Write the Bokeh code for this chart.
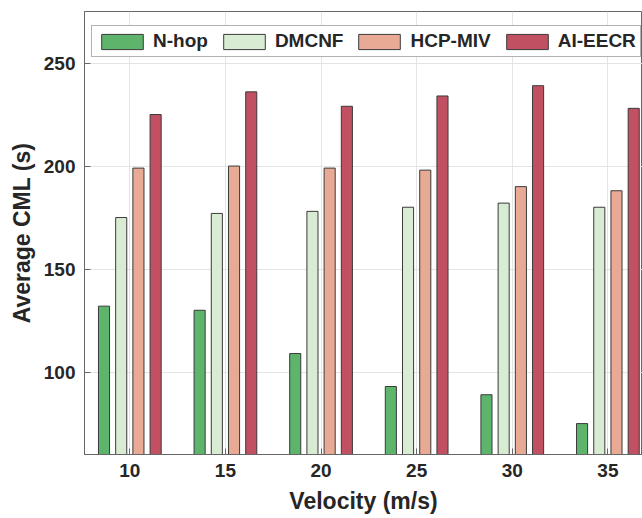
from bokeh.plotting import figure
from bokeh.models import ColumnDataSource, Legend, LegendItem
from bokeh.transform import dodge
from bokeh.embed import file_html
from bokeh.resources import INLINE

# ---- data ----
velocity = [10, 15, 20, 25, 30, 35]
n_hop = [132, 130, 109, 93, 89, 75]
dmcnf = [175, 177, 178, 180, 182, 180]
hcp_miv = [199, 200, 199, 198, 190, 188]
ai_eecr = [225, 236, 229, 234, 239, 228]
series_names = ["N-hop", "DMCNF", "HCP-MIV", "AI-EECR"]
series_keys = ["n_hop", "dmcnf", "hcp_miv", "ai_eecr"]
colors = ["#5eb46a", "#d8ecd4", "#e8aa94", "#c15162"]
y_ticks = [100, 150, 200, 250]

source = ColumnDataSource(dict(velocity=velocity, n_hop=n_hop, dmcnf=dmcnf,
                               hcp_miv=hcp_miv, ai_eecr=ai_eecr))

FONT = "Liberation Sans"
TXT = "#262626"

p = figure(width=642, height=518, x_range=(7.63, 36.81), y_range=(60, 275),
           output_backend="svg", toolbar_location=None,
           min_border_left=84, min_border_right=0, min_border_top=11, min_border_bottom=64)

offsets = [-1.35, -0.45, 0.45, 1.35]
items = []
for key, name, col, off in zip(series_keys, series_names, colors, offsets):
    r = p.vbar(x=dodge("velocity", off, range=p.x_range), top=key, bottom=0, width=0.58,
               source=source, fill_color=col, line_color="#3a3a3a", line_width=1)
    items.append(LegendItem(label=name, renderers=[r]))

legend = Legend(items=items, orientation="horizontal", location=(7, 397),
                glyph_width=52, glyph_height=19, label_standoff=5, spacing=10,
                padding=4, margin=0, border_line_color="#666666", border_line_width=1.5,
                label_text_font=FONT, label_text_font_style="bold",
                label_text_font_size="19px", label_text_color=TXT,
                background_fill_alpha=1.0)
p.add_layout(legend, "center")

for ax in (p.xaxis[0], p.yaxis[0]):
    ax.major_tick_in = 6
    ax.major_tick_out = 0
    ax.minor_tick_line_color = None
    ax.axis_line_color = "#666666"
    ax.major_tick_line_color = "#666666"
    ax.major_label_text_font = FONT
    ax.major_label_text_font_style = "bold"
    ax.major_label_text_font_size = "19px"
    ax.major_label_text_color = TXT
    ax.axis_label_text_font = FONT
    ax.axis_label_text_font_style = "bold"
    ax.axis_label_text_font_size = "23px"
    ax.axis_label_text_color = TXT

p.xaxis.ticker = velocity
p.yaxis.ticker = y_ticks
p.xaxis.axis_label = "Velocity (m/s)"
p.yaxis.axis_label = "Average CML (s)"
p.xaxis.major_label_standoff = 9
p.xaxis.axis_label_standoff = 8
p.yaxis.major_label_standoff = 9
p.yaxis.axis_label_standoff = 6

p.xgrid.ticker = velocity
p.ygrid.ticker = y_ticks
p.grid.grid_line_color = "#e4e4e4"
p.grid.grid_line_width = 1
p.outline_line_color = "#666666"
p.outline_line_width = 1
p.background_fill_color = "white"
p.border_fill_color = "white"

open("out.html", "w").write(file_html(p, INLINE))
